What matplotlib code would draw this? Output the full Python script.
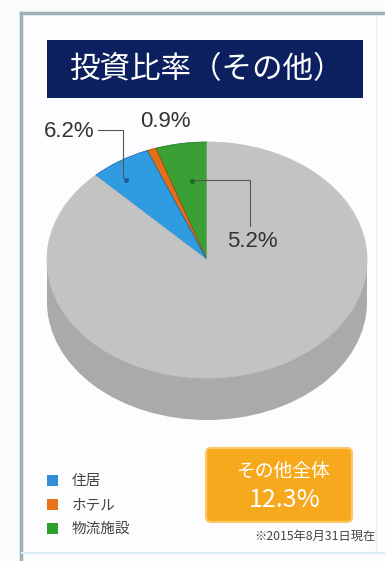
import matplotlib
matplotlib.use("Agg")
import matplotlib.pyplot as plt
from matplotlib.patches import Rectangle, Ellipse, FancyBboxPatch

plt.rcParams['font.family'] = ['Noto Sans CJK JP', 'DejaVu Sans']

# 投資比率(その他) の内訳
categories = ["物流施設", "ホテル", "住居", "その他以外"]
values = [5.2, 0.9, 6.2, 87.7]
colors = ["#3aa035", "#e46f17", "#2f9be0", "#c3c3c3"]
pct_labels = ["5.2%", "0.9%", "6.2%"]
legend_names = ["住居", "ホテル", "物流施設"]
legend_colors = ["#2f8fd8", "#e8721c", "#2e9e2e"]
total_label = "12.3%"

W, H = 385, 561
fig = plt.figure(figsize=(W / 100, H / 100), dpi=100)
fig.patch.set_facecolor("#f9fbfd")

# 背景レイヤー (ピクセル座標)
bg = fig.add_axes([0, 0, 1, 1])
bg.set_xlim(0, W)
bg.set_ylim(H, 0)
bg.axis("off")

bg.add_patch(Rectangle((21, 13), W - 21, H - 13, facecolor="#fdfdff", edgecolor="none"))
bg.plot([21, 21], [13, H], color="#9fb0b6", lw=2.5)
bg.plot([21, W], [13, 13], color="#9fb0b6", lw=2.5)
bg.plot([22, W], [553, 553], color="#d6ebf4", lw=1.5)
bg.plot([376, 376], [16, 552], color="#f3e8f0", lw=1)

# タイトル
bg.add_patch(Rectangle((47, 40), 316, 58, facecolor="#0c1f5e", edgecolor="none"))
bg.text(206, 70, "投資比率（その他）", color="white", fontsize=22,
        ha="center", va="center")

# 円の側面 (立体部分)
cx, cy, rx, ry, depth = 207, 260, 160, 118, 42
side = "#aaaaaa"
bg.add_patch(Ellipse((cx, cy + depth), 2 * rx, 2 * ry, facecolor=side, edgecolor="none"))
bg.add_patch(Rectangle((cx - rx, cy), 2 * rx, depth, facecolor=side, edgecolor="none"))

# 円の上面
ax = fig.add_axes([(cx - rx) / W, 1 - (cy + ry) / H, 2 * rx / W, 2 * ry / H])
wedges, _ = ax.pie(values, colors=colors, startangle=90, counterclock=True, radius=1,
                   wedgeprops=dict(linewidth=0.6, edgecolor="#c3c3c3"))
for w, ec in zip(wedges[:3], ["#2a7a28", "#a84c0c", "#1f6fa8"]):
    w.set_edgecolor(ec)
ax.set_xlim(-1, 1)
ax.set_ylim(-1, 1)
ax.set_aspect("auto")
ax.axis("off")

# ラベル・凡例レイヤー
ov = fig.add_axes([0, 0, 1, 1])
ov.set_xlim(0, W)
ov.set_ylim(H, 0)
ov.axis("off")
ov.patch.set_alpha(0)

lc = "#555555"
ov.plot([98, 123, 123], [130, 130, 178], color=lc, lw=0.8)
ov.plot([192, 250, 250], [180, 180, 226], color=lc, lw=0.8)
ov.plot(126, 180, "o", ms=2.5, color="#1a5f90")
ov.plot(192, 181, "o", ms=2.5, color="#1e6a1e")

pct_font = ["Liberation Sans", "DejaVu Sans"]
ov.text(69, 131, pct_labels[2], fontsize=16, color="#333333", ha="center", va="center",
        family=pct_font)
ov.text(165, 121, pct_labels[1], fontsize=16, color="#333333", ha="center", va="center",
        family=pct_font)
ov.text(252, 241, pct_labels[0], fontsize=16, color="#333333", ha="center", va="center",
        family=pct_font)

# 凡例
for i, (name, col) in enumerate(zip(legend_names, legend_colors)):
    y = 481 + i * 24
    ov.add_patch(Rectangle((47, y - 6), 11, 11, facecolor=col, edgecolor="none"))
    ov.text(72, y, name, fontsize=10.5, color="#444444", ha="left", va="center")

# 合計ボックス
ov.add_patch(FancyBboxPatch((206, 448), 146, 74, boxstyle="round,pad=0,rounding_size=5",
                            facecolor="#f7a91e", edgecolor="#fbc96a", lw=1.5))
ov.text(283, 471, "その他全体", fontsize=13.5, color="white", ha="center", va="center")
ov.text(285, 500, total_label, fontsize=18, color="white", ha="center", va="center")

ov.text(376, 536, "※2015年8月31日現在", fontsize=8.8, color="#444444", ha="right", va="center")

fig.savefig("out.png", dpi=100, facecolor=fig.get_facecolor())
